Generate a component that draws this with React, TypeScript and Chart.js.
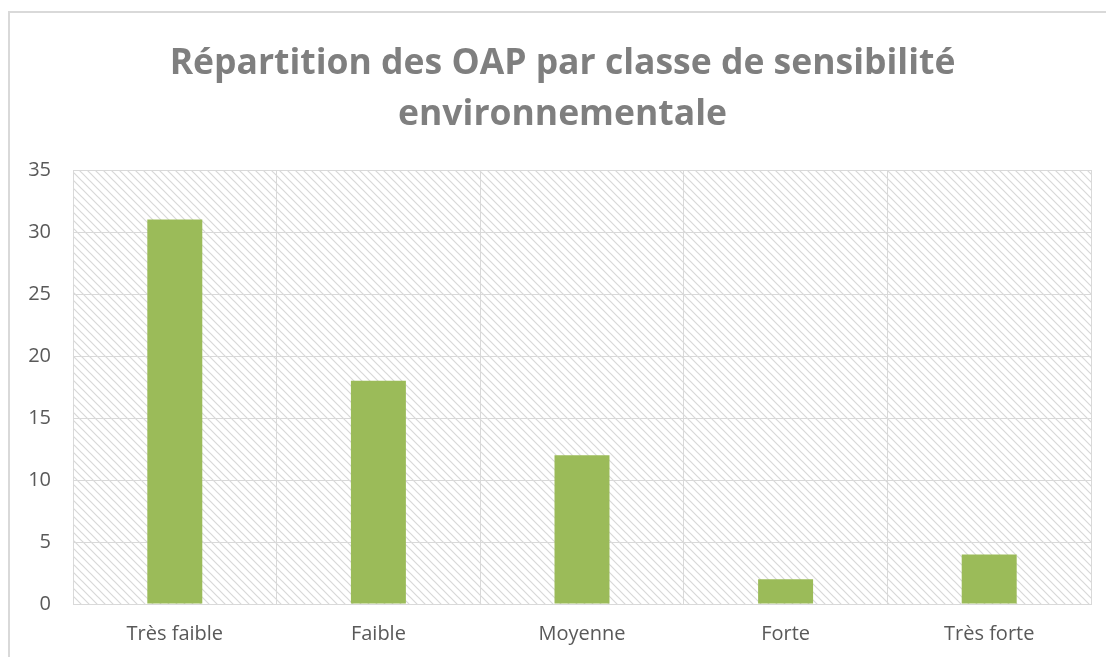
import React, { useEffect, useRef } from "react";
import { Chart, registerables } from "chart.js";

Chart.register(...registerables);

const categories = ["Très faible", "Faible", "Moyenne", "Forte", "Très forte"];
const values = [31, 18, 12, 2, 4];
const titleLines = ["Répartition des OAP par classe de sensibilité", "environnementale"];
const yMin = 0;
const yMax = 35;
const yStep = 5;

const FONT = "'Open Sans', 'Liberation Sans', sans-serif";

function makePattern(ctx: CanvasRenderingContext2D) {
  const size = 8;
  const c = document.createElement("canvas");
  c.width = size;
  c.height = size;
  const g = c.getContext("2d")!;
  g.fillStyle = "#ffffff";
  g.fillRect(0, 0, size, size);
  g.strokeStyle = "#d8d8d8";
  g.lineWidth = 1.2;
  g.beginPath();
  g.moveTo(-1, -1);
  g.lineTo(size + 1, size + 1);
  g.moveTo(-1, size - 1);
  g.lineTo(1, size + 1);
  g.moveTo(size - 1, -1);
  g.lineTo(size + 1, 1);
  g.stroke();
  return ctx.createPattern(c, "repeat");
}

const hatchPlugin = {
  id: "hatchBg",
  beforeDraw(chart: any) {
    const { ctx, chartArea } = chart;
    if (!chartArea) return;
    const p = makePattern(ctx);
    ctx.save();
    if (p) ctx.fillStyle = p;
    ctx.fillRect(chartArea.left, chartArea.top, chartArea.right - chartArea.left, chartArea.bottom - chartArea.top);
    ctx.restore();
  },
};

// Title drawn centred on the full chart frame (which extends past the visible right edge)
const titlePlugin = {
  id: "frameTitle",
  afterDraw(chart: any) {
    const { ctx } = chart;
    ctx.save();
    ctx.fillStyle = "#7f7f7f";
    ctx.font = `bold 35.5px ${FONT}`;
    ctx.textAlign = "center";
    ctx.textBaseline = "middle";
    const cx = 552.5;
    const lineH = 51.1;
    titleLines.forEach((line, i) => {
      ctx.fillText(line, cx, 51.1 + i * lineH);
    });
    ctx.restore();
  },
};

export default function App() {
  const ref = useRef<HTMLCanvasElement>(null);
  useEffect(() => {
    const chart = new Chart(ref.current!, {
      type: "bar",
      data: {
        labels: categories,
        datasets: [
          {
            data: values,
            backgroundColor: "#9bbb59",
            borderWidth: 0,
            categoryPercentage: 1,
            barPercentage: 0.27,
          },
        ],
      },
      options: {
        animation: false,
        responsive: false,
        layout: { padding: { left: 0, right: 15, top: 157, bottom: 0 } },
        plugins: {
          legend: { display: false },
          tooltip: { enabled: false },
          title: { display: false },
        },
        scales: {
          x: {
            grid: { color: "#d9d9d9", offset: true, drawTicks: false, lineWidth: 1 },
            border: { color: "#d9d9d9", width: 1 },
            ticks: { color: "#595959", font: { family: FONT, size: 20 }, padding: 18 },
            afterFit(scale: any) {
              scale.height = 53;
              scale.paddingLeft = 0;
              scale.paddingRight = 0;
            },
          },
          y: {
            min: yMin,
            max: yMax,
            grid: { color: "#d9d9d9", drawTicks: false, lineWidth: 1 },
            border: { color: "#d9d9d9", width: 1 },
            ticks: { stepSize: yStep, color: "#595959", font: { family: FONT, size: 20 }, padding: 22 },
            afterFit(scale: any) {
              scale.width = 63;
              scale.paddingTop = 0;
              scale.paddingBottom = 0;
            },
          },
        },
      },
      plugins: [
        hatchPlugin,
        titlePlugin,
        {
          id: "frame",
          afterDraw(chart: any) {
            const { ctx, chartArea } = chart;
            ctx.save();
            ctx.strokeStyle = "#d9d9d9";
            ctx.lineWidth = 1;
            ctx.strokeRect(
              Math.round(chartArea.left) + 0.5,
              Math.round(chartArea.top) + 0.5,
              Math.round(chartArea.right - chartArea.left),
              Math.round(chartArea.bottom - chartArea.top)
            );
            ctx.restore();
          },
        },
      ],
    });
    return () => chart.destroy();
  }, []);

  return (
    <div style={{ position: "fixed", left: 0, top: 0, width: 1106, height: 657, overflow: "hidden", background: "#fff" }}>
      <div
        style={{
          position: "absolute",
          left: 8,
          top: 11,
          width: 1120,
          height: 680,
          borderLeft: "2px solid #d9d9d9",
          borderTop: "2px solid #d9d9d9",
          boxSizing: "border-box",
        }}
      >
        <canvas ref={ref} width={1096} height={644} style={{ display: "block" }} />
      </div>
    </div>
  );
}
